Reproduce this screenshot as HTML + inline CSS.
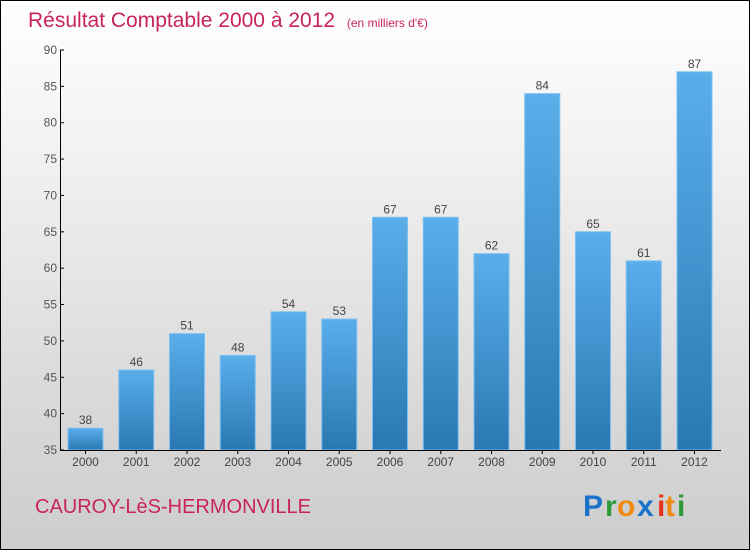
<!DOCTYPE html>
<html><head><meta charset="utf-8"><style>
body{margin:0;width:750px;height:550px;overflow:hidden;font-family:"Liberation Sans",sans-serif}
#wrap{position:absolute;left:0;top:0;width:748px;height:548px;border:1px solid #000;background:linear-gradient(#fff 0%,#f0f0f0 30%,#d8d8d8 75%,#cdcdcd 100%)}
</style></head><body>
<div id="wrap">
<svg id="chart" width="750" height="550" style="position:absolute;left:-1px;top:-1px">
<defs><linearGradient id="bg" x1="0" y1="0" x2="0" y2="1"><stop offset="0" stop-color="#5aaeea"/><stop offset="1" stop-color="#2a78b3"/></linearGradient></defs>
<text x="28" y="27" font-size="21" fill="#c8245a">Résultat Comptable 2000 à 2012 <tspan font-size="12" dx="6">(en milliers d'€)</tspan></text>
<text x="35" y="513" font-size="20" fill="#c8245a">CAUROY-LèS-HERMONVILLE</text>
<g font-size="30" font-weight="bold" font-family="'Liberation Sans',sans-serif">
<text x="583" y="516" fill="#1a73c8">P</text><text x="605" y="516" fill="#2e9a3a">r</text><text x="617" y="516" fill="#f08a10">o</text><text x="637" y="516" fill="#1a73c8">x</text><text x="657" y="516" fill="#e8341c">i</text><text x="665" y="516" fill="#f08a10">t</text><text x="677" y="516" fill="#2e9a3a">i</text></g>
<g id="plot"></g>
</svg></div>
<script>
const years=["2000","2001","2002","2003","2004","2005","2006","2007","2008","2009","2010","2011","2012"];
const values=[38,46,51,48,54,53,67,67,62,84,65,61,87];
const yTicks=[35,40,45,50,55,60,65,70,75,80,85,90];
const NS="http://www.w3.org/2000/svg";
const g=document.getElementById('plot');
const y0=450,y1=50,vmin=35,vmax=90;
const y=v=>y0-(v-vmin)/(vmax-vmin)*(y0-y1);
const x=i=>85.5+i*50.75;
function mk(t,a){const e=document.createElementNS(NS,t);for(const k in a)e.setAttribute(k,a[k]);g.appendChild(e);return e;}
values.forEach((v,i)=>{
 const r=mk('rect',{x:x(i)-17.5,y:y(v),width:35,height:y0-y(v),fill:'url(#bg)',stroke:'#7cc0f0','stroke-width':1});
 
 
 const t=mk('text',{x:x(i),y:y(v)-4,'text-anchor':'middle','font-size':12,fill:'#444'});t.textContent=v;
 
 
 const xl=mk('text',{x:x(i),y:466,'text-anchor':'middle','font-size':12,fill:'#444'});xl.textContent=years[i];
 
 
 mk('line',{x1:x(i),x2:x(i),y1:450,y2:454,stroke:'#000'});
});
yTicks.forEach(v=>{
 mk('line',{x1:60,x2:64,y1:y(v),y2:y(v),stroke:'#000'});
 const t=mk('text',{x:57,y:y(v)+4,'text-anchor':'end','font-size':12,fill:'#555'});t.textContent=v;
 
 
});
const ya=mk('line',{x1:60.5,x2:60.5,y1:50,y2:450,stroke:'#000'});


const xa=mk('line',{x1:60,x2:721,y1:450.5,y2:450.5,stroke:'#000'});


</script>
</body></html>
